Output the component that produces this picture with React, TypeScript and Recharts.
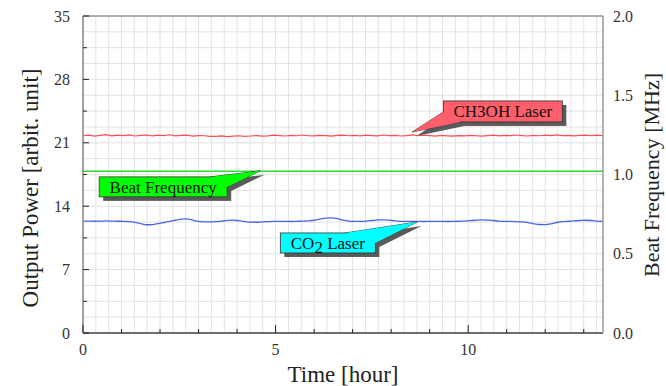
import React from "react";
import { LineChart, Line, XAxis, YAxis, ReferenceLine, ReferenceDot, Label } from "recharts";

const time = [
  0, 0.15, 0.3, 0.45, 0.6, 0.75, 0.9, 1.05, 1.2, 1.35,
  1.5, 1.65, 1.8, 1.95, 2.1, 2.25, 2.4, 2.55, 2.7, 2.85,
  3.0, 3.15, 3.3, 3.45, 3.6, 3.75, 3.9, 4.05, 4.2, 4.35,
  4.5, 4.65, 4.8, 4.95, 5.1, 5.25, 5.4, 5.55, 5.7, 5.85,
  6.0, 6.15, 6.3, 6.45, 6.6, 6.75, 6.9, 7.05, 7.2, 7.35,
  7.5, 7.65, 7.8, 7.95, 8.1, 8.25, 8.4, 8.55, 8.7, 8.85,
  9.0, 9.15, 9.3, 9.45, 9.6, 9.75, 9.9, 10.05, 10.2, 10.35,
  10.5, 10.65, 10.8, 10.95, 11.1, 11.25, 11.4, 11.55, 11.7, 11.85,
  12.0, 12.15, 12.3, 12.45, 12.6, 12.75, 12.9, 13.05, 13.2, 13.35,
  13.5,
];

const ch3ohPower = [
  21.78, 21.85, 21.74, 21.82, 21.9, 21.76, 21.84, 21.79, 21.88, 21.75,
  21.83, 21.86, 21.77, 21.84, 21.8, 21.89, 21.76, 21.82, 21.85, 21.74,
  21.8, 21.78, 21.7, 21.72, 21.76, 21.69, 21.74, 21.78, 21.71, 21.75,
  21.8, 21.73, 21.77, 21.84, 21.79, 21.75, 21.82, 21.78, 21.86, 21.8,
  21.76, 21.83, 21.79, 21.74, 21.81, 21.85, 21.78, 21.82, 21.76, 21.84,
  21.8, 21.77, 21.86, 21.79, 21.83, 21.75, 21.8, 21.88, 21.78, 21.84,
  21.79, 21.74, 21.82, 21.77, 21.73, 21.8, 21.76, 21.83, 21.78, 21.74,
  21.8, 21.85, 21.77, 21.82, 21.79, 21.86, 21.8, 21.75, 21.83, 21.78,
  21.84, 21.8, 21.87, 21.79, 21.83, 21.76, 21.82, 21.85, 21.79, 21.84,
  21.8,
];

const co2Power = [
  12.35, 12.36, 12.34, 12.35, 12.37, 12.35, 12.34, 12.33, 12.3, 12.22,
  12.08, 11.95, 11.97, 12.08, 12.2, 12.32, 12.45, 12.58, 12.6, 12.45,
  12.32, 12.27, 12.26, 12.3, 12.36, 12.44, 12.47, 12.4, 12.3, 12.24,
  12.23, 12.27, 12.3, 12.32, 12.33, 12.32, 12.31, 12.33, 12.35, 12.38,
  12.45, 12.58, 12.68, 12.7, 12.62, 12.45, 12.35, 12.32, 12.33, 12.36,
  12.42, 12.48, 12.5, 12.47, 12.38, 12.33, 12.32, 12.33, 12.32, 12.31,
  12.32, 12.33, 12.32, 12.31, 12.32, 12.34, 12.36, 12.4, 12.45, 12.48,
  12.47, 12.42, 12.36, 12.33, 12.32, 12.3, 12.26, 12.18, 12.06, 11.98,
  11.97, 12.05, 12.2, 12.3, 12.34, 12.38, 12.42, 12.45, 12.42, 12.36,
  12.33,
];

const beatTime = [0, 13.5];
const beatFreq = [1.02, 1.02];

const xTicks = [0, 1, 2, 3, 4, 5, 6, 7, 8, 9, 10, 11, 12, 13];
const xLabels = [0, 5, 10];
const leftTicks = [0, 3.5, 7, 10.5, 14, 17.5, 21, 24.5, 28, 31.5, 35];
const leftLabels = [0, 7, 14, 21, 28, 35];
const rightTicks = [0, 0.5, 1.0, 1.5, 2.0];

const gridX = Array.from({ length: 41 }, (_, i) => i / 3);
const gridY = Array.from({ length: 21 }, (_, i) => i * 1.75);

// callout tips (data coords)
const calloutTips = {
  ch3oh: { t: 8.55, p: 22.2 },
  beat: { t: 4.6, p: 17.9 },
  co2: { t: 8.68, p: 12.26 },
};

const mainData = time.map((t, i) => ({ t, ch3oh: ch3ohPower[i], co2: co2Power[i] }));
const beatData = beatTime.map((t, i) => ({ t, beat: beatFreq[i] }));

const FONT = "'Liberation Serif', 'Times New Roman', serif";
const W = 666;
const H = 386;
const PLOT = { left: 83, right: 603, top: 16, bottom: 333 };

const BottomTick = (props: any) => {
  const { x, y, payload } = props;
  const v = payload.value;
  const major = xLabels.includes(v);
  return (
    <g>
      <line x1={x} x2={x} y1={y} y2={y - (major ? 8 : 4)} stroke="#222" strokeWidth={1} />
      {major && (
        <text x={x} y={y + 11} dy="0.71em" textAnchor="middle" fontSize={16} fill="#333" fontFamily={FONT}>
          {v}
        </text>
      )}
    </g>
  );
};

const TopTick = (props: any) => {
  const { x, y } = props;
  return <line x1={x} x2={x} y1={y} y2={y + 4} stroke="#222" strokeWidth={1} />;
};

const LeftTick = (props: any) => {
  const { x, y, payload } = props;
  const v = payload.value;
  const major = leftLabels.includes(v);
  return (
    <g>
      <line x1={x} x2={x + (major ? 6 : 4)} y1={y} y2={y} stroke="#222" strokeWidth={1} />
      {major && (
        <text x={x - 13} y={y} dy="0.355em" textAnchor="end" fontSize={16} fill="#333" fontFamily={FONT}>
          {v}
        </text>
      )}
    </g>
  );
};

const RightTick = (props: any) => {
  const { x, y, payload } = props;
  return (
    <text x={x + 10} y={y} dy="0.355em" textAnchor="start" fontSize={16} fill="#333" fontFamily={FONT}>
      {Number(payload.value).toFixed(1)}
    </text>
  );
};

type CalloutProps = {
  cx?: number;
  cy?: number;
  box: [number, number, number, number];
  wedge: [number, number, number, number];
  fill: string;
  children: React.ReactNode;
};

const Callout = ({ cx = 0, cy = 0, box, wedge, fill, children }: CalloutProps) => {
  const [bx0, by0, bx1, by1] = box;
  const [wx0, wy0, wx1, wy1] = wedge;
  const sh = 4;
  const wedgePts = (dx: number, dy: number) =>
    `${cx + dx},${cy + dy} ${cx + wx0 + dx},${cy + wy0 + dy} ${cx + wx1 + dx},${cy + wy1 + dy}`;
  return (
    <g>
      <rect x={cx + bx0 + sh} y={cy + by0 + sh} width={bx1 - bx0} height={by1 - by0} fill="#5a5a5a" />
      <polygon points={wedgePts(sh, sh)} fill="#5a5a5a" />
      <polygon points={wedgePts(0, 0)} fill={fill} stroke="#333" strokeWidth={0.8} />
      <rect x={cx + bx0} y={cy + by0} width={bx1 - bx0} height={by1 - by0} fill={fill} stroke="#333" strokeWidth={0.8} />
      <polygon points={wedgePts(0, 0)} fill={fill} stroke="none" />
      <text
        x={cx + (bx0 + bx1) / 2}
        y={cy + (by0 + by1) / 2}
        dy="0.35em"
        textAnchor="middle"
        fontSize={17}
        fill="#111"
        fontFamily={FONT}
      >
        {children}
      </text>
    </g>
  );
};

const TitleText = ({ x, y, rotate, size = 23, children }: { x: number; y: number; rotate?: boolean; size?: number; children: React.ReactNode }) => (
  <text
    x={x}
    y={y}
    transform={rotate ? `rotate(-90 ${x} ${y})` : undefined}
    textAnchor="middle"
    dy="0.35em"
    fontSize={size}
    fill="#222"
    fontFamily={FONT}
  >
    {children}
  </text>
);

export default function App() {
  return (
    <div style={{ position: "absolute", left: 0, top: 0, background: "#fff" }}>
      <LineChart width={W} height={H} margin={{ top: 0, right: 0, bottom: 0, left: 0 }}>
        <XAxis
          xAxisId="b"
          dataKey="t"
          type="number"
          domain={[0, 13.5]}
          allowDataOverflow
          ticks={xTicks}
          tick={<BottomTick />}
          tickSize={0}
          tickMargin={0}
          tickLine={false}
          height={H - PLOT.bottom}
          axisLine={{ stroke: "#444", strokeWidth: 1.5 }}
          interval={0}
        >
          <Label content={() => <TitleText x={(PLOT.left + PLOT.right) / 2} y={374}>Time [hour]</TitleText>} />
        </XAxis>
        <XAxis
          xAxisId="t"
          orientation="top"
          type="number"
          domain={[0, 13.5]}
          allowDataOverflow
          ticks={xTicks}
          tick={<TopTick />}
          tickSize={0}
          tickMargin={0}
          tickLine={false}
          height={PLOT.top}
          axisLine={{ stroke: "#999", strokeWidth: 1.5 }}
          interval={0}
        />
        <YAxis
          yAxisId="l"
          type="number"
          domain={[0, 35]}
          ticks={leftTicks}
          tick={<LeftTick />}
          tickSize={0}
          tickMargin={0}
          tickLine={false}
          width={PLOT.left}
          axisLine={{ stroke: "#888", strokeWidth: 1.5 }}
          interval={0}
        >
          <Label content={() => <TitleText x={30} y={188} rotate>Output Power [arbit. unit]</TitleText>} />
        </YAxis>
        <YAxis
          yAxisId="r"
          orientation="right"
          type="number"
          domain={[0, 2]}
          ticks={rightTicks}
          tick={<RightTick />}
          tickSize={0}
          tickMargin={0}
          tickLine={false}
          width={W - PLOT.right}
          axisLine={{ stroke: "#999", strokeWidth: 1.5 }}
          interval={0}
        >
          <Label content={() => <TitleText x={651} y={175} size={22} rotate>Beat Frequency [MHz]</TitleText>} />
        </YAxis>

        {gridX.map((v) => (
          <ReferenceLine key={"gx" + v} x={v} xAxisId="b" yAxisId="l" stroke="#e2e2e2" strokeWidth={1} />
        ))}
        {gridY.map((v) => (
          <ReferenceLine key={"gy" + v} y={v} xAxisId="b" yAxisId="l" stroke="#e2e2e2" strokeWidth={1} />
        ))}

        <Line
          data={beatData}
          xAxisId="b"
          yAxisId="r"
          dataKey="beat"
          stroke="#33dd33"
          strokeWidth={1.5}
          dot={false}
          isAnimationActive={false}
        />
        <Line
          data={mainData}
          xAxisId="b"
          yAxisId="l"
          dataKey="ch3oh"
          stroke="#ff4d55"
          strokeWidth={1.2}
          dot={false}
          isAnimationActive={false}
        />
        <Line
          data={mainData}
          xAxisId="b"
          yAxisId="l"
          dataKey="co2"
          stroke="#4a63e8"
          strokeWidth={1.3}
          dot={false}
          type="monotone"
          isAnimationActive={false}
        />

        <ReferenceDot
          xAxisId="b"
          yAxisId="l"
          x={calloutTips.ch3oh.t}
          y={calloutTips.ch3oh.p}
          r={1}
          shape={(p: any) => (
            <Callout cx={p.cx} cy={p.cy} box={[31, -31, 150, -10]} wedge={[31, -20, 48, -10]} fill="#ff5f6b">
              CH3OH Laser
            </Callout>
          )}
        />
        <ReferenceDot
          xAxisId="b"
          yAxisId="l"
          x={calloutTips.beat.t}
          y={calloutTips.beat.p}
          r={1}
          shape={(p: any) => (
            <Callout cx={p.cx} cy={p.cy} box={[-161, 6, -33, 26]} wedge={[-50, 6, -33, 16]} fill="#00ff00">
              Beat Frequency
            </Callout>
          )}
        />
        <ReferenceDot
          xAxisId="b"
          yAxisId="l"
          x={calloutTips.co2.t}
          y={calloutTips.co2.p}
          r={1}
          shape={(p: any) => (
            <Callout cx={p.cx} cy={p.cy} box={[-137, 11, -42, 31]} wedge={[-72, 11, -42, 21]} fill="#00ffff">
              CO<tspan dy="4">2</tspan>
              <tspan dy="-4"> Laser</tspan>
            </Callout>
          )}
        />
      </LineChart>
    </div>
  );
}
